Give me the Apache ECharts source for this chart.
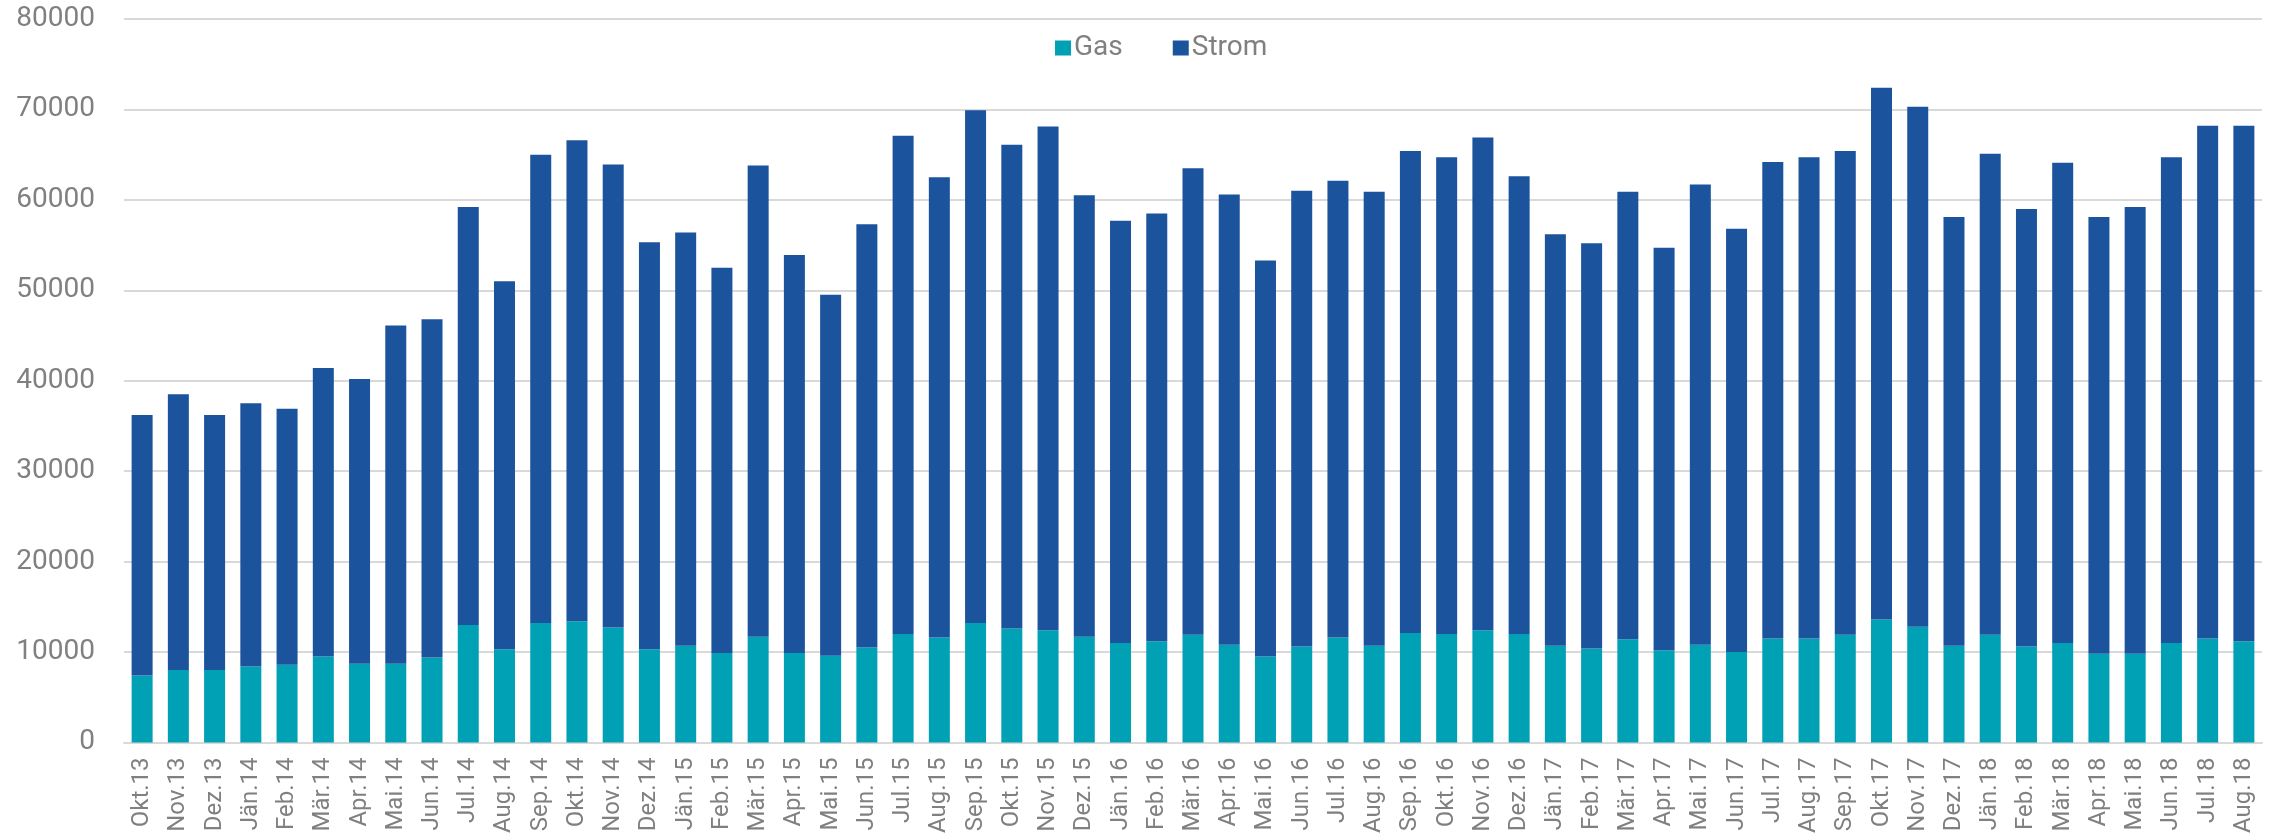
<!DOCTYPE html>
<html>
<head>
<meta charset="utf-8">
<script src="https://cdn.jsdelivr.net/npm/echarts@6/dist/echarts.min.js"></script>
<style>
  html, body { margin: 0; padding: 0; background: #fff; }
  #myChart { width: 2277px; height: 836px; }
</style>
</head>
<body>
<div id="myChart"></div>
<script>
let months = [
  'Okt.13', 'Nov.13', 'Dez.13',
  'Jän.14', 'Feb.14', 'Mär.14', 'Apr.14', 'Mai.14', 'Jun.14', 'Jul.14', 'Aug.14', 'Sep.14', 'Okt.14', 'Nov.14', 'Dez.14',
  'Jän.15', 'Feb.15', 'Mär.15', 'Apr.15', 'Mai.15', 'Jun.15', 'Jul.15', 'Aug.15', 'Sep.15', 'Okt.15', 'Nov.15', 'Dez.15',
  'Jän.16', 'Feb.16', 'Mär.16', 'Apr.16', 'Mai.16', 'Jun.16', 'Jul.16', 'Aug.16', 'Sep.16', 'Okt.16', 'Nov.16', 'Dez.16',
  'Jän.17', 'Feb.17', 'Mär.17', 'Apr.17', 'Mai.17', 'Jun.17', 'Jul.17', 'Aug.17', 'Sep.17', 'Okt.17', 'Nov.17', 'Dez.17',
  'Jän.18', 'Feb.18', 'Mär.18', 'Apr.18', 'Mai.18', 'Jun.18', 'Jul.18', 'Aug.18'
]

let gas = [
  7400, 8000, 8000,
  8400, 8600, 9500, 8700, 8700, 9400, 13000, 10300, 13200, 13400, 12700, 10300,
  10700, 9900, 11700, 9900, 9600, 10500, 12000, 11600, 13200, 12600, 12400, 11700,
  11000, 11200, 11900, 10800, 9500, 10600, 11600, 10700, 12100, 12000, 12400, 12000,
  10700, 10400, 11400, 10200, 10800, 10000, 11500, 11500, 11900, 13600, 12800, 10700,
  11900, 10600, 11000, 9800, 9800, 11000, 11500, 11200
]

let strom = [
  28800, 30500, 28200,
  29100, 28300, 31900, 31500, 37400, 37400, 46200, 40700, 51800, 53200, 51200, 45000,
  45700, 42600, 52100, 44000, 39900, 46800, 55100, 50900, 56700, 53500, 55700, 48800,
  46700, 47300, 51600, 49800, 43800, 50400, 50500, 50200, 53300, 52700, 54500, 50600,
  45500, 44800, 49500, 44500, 50900, 46800, 52700, 53200, 53500, 58800, 57500, 47400,
  53200, 48400, 53100, 48300, 49400, 53700, 56700, 57000
]

let yTicks = { min: 0, max: 80000, interval: 10000 }

let myChart = echarts.init(document.getElementById('myChart'))
let colors = ['#00A1B4', '#1B539D']
let textColor = '#808080'

let option = {
  animation: false,
  color: colors,
  textStyle: {
    fontFamily: 'Roboto'
  },
  legend: {
    data: ['Gas', 'Strom'],
    top: 29,
    left: 1050,
    itemWidth: 16,
    itemHeight: 15,
    itemGap: 50,
    icon: 'rect',
    textStyle: {
      color: textColor,
      fontSize: 28,
      fontFamily: 'Roboto',
      padding: [0, 0, 0, -2]
    }
  },
  grid: {
    left: 124,
    right: 15,
    top: 19,
    bottom: 90,
    containLabel: false
  },
  xAxis: {
    type: 'category',
    data: months,
    axisTick: { show: false },
    axisLine: {
      lineStyle: { color: '#d9d9d9', width: 2 }
    },
    axisLabel: {
      interval: 0,
      rotate: 90,
      margin: 15,
      color: textColor,
      fontSize: 24,
      fontFamily: 'Roboto'
    }
  },
  yAxis: {
    type: 'value',
    min: yTicks.min,
    max: yTicks.max,
    interval: yTicks.interval,
    axisLine: { show: false },
    axisTick: { show: false },
    splitLine: {
      lineStyle: { color: '#d9d9d9', width: 2 }
    },
    axisLabel: {
      margin: 29,
      color: textColor,
      fontSize: 28,
      fontFamily: 'Roboto',
      formatter: function (value) {
        return String(value)
      }
    }
  },
  series: [
    {
      name: 'Gas',
      type: 'bar',
      stack: 'total',
      barWidth: 21,
      data: gas
    },
    {
      name: 'Strom',
      type: 'bar',
      stack: 'total',
      barWidth: 21,
      data: strom
    }
  ]
}
myChart.setOption(option)
</script>
</body>
</html>
